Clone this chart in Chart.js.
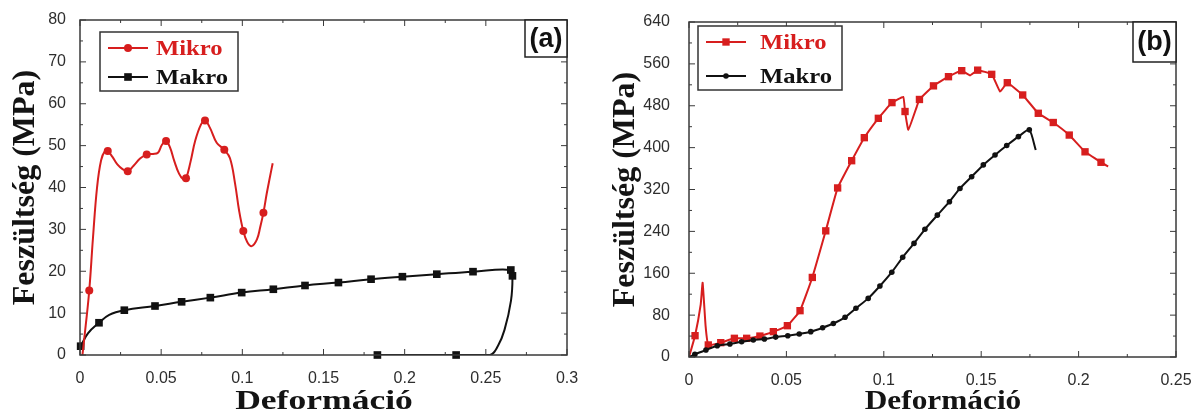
<!DOCTYPE html>
<html>
<head>
<meta charset="utf-8">
<script src="https://cdn.jsdelivr.net/npm/chart.js@4"></script>
<style>
body { margin: 0; background: #fff; }
.wrap { display: flex; width: 1200px; height: 413px; }
.wrap div { width: 600px; height: 413px; }
</style>
</head>
<body>
<div class="wrap">
  <div><canvas id="chartA" width="600" height="413"></canvas></div>
  <div><canvas id="chartB" width="600" height="413"></canvas></div>
</div>
<script>
// ---- (a) ----
var aMikroX = [0.0015, 0.0035, 0.0057, 0.008, 0.0105, 0.013, 0.0155, 0.0171, 0.020, 0.023, 0.0262, 0.0294, 0.033, 0.037, 0.0411, 0.045, 0.048, 0.0505, 0.053, 0.0555, 0.058, 0.061, 0.0635, 0.0653, 0.068, 0.071, 0.0745, 0.077, 0.080, 0.0842, 0.0889, 0.0924, 0.0955, 0.098, 0.1006, 0.103, 0.1058, 0.109, 0.111, 0.113, 0.115, 0.117, 0.1187];
var aMikroY = [0, 7, 15.4, 28, 40, 46.5, 48.8, 48.7, 47.3, 45.5, 44.4, 43.9, 45.2, 46.9, 47.9, 48.0, 48.3, 50.2, 51.1, 49.5, 46.4, 43.3, 42.0, 42.2, 46.0, 51.2, 55.0, 56.0, 54.3, 50.7, 49.0, 47.0, 41.0, 34.5, 29.6, 27.0, 26.0, 27.6, 30.5, 34.0, 38.5, 42.5, 45.8];
var aMikroMarkX = [0.0057, 0.0171, 0.0294, 0.0411, 0.053, 0.0653, 0.077, 0.0889, 0.1006, 0.113];
var aMikroMarkY = [15.4, 48.7, 43.9, 47.9, 51.1, 42.2, 56.0, 49.0, 29.6, 34.0];

var aMakroX = [0.0004, 0.005, 0.0117, 0.018, 0.0273, 0.0462, 0.0626, 0.0803, 0.0996, 0.1191, 0.1386, 0.1592, 0.1793, 0.1986, 0.2198, 0.2421, 0.2654, 0.2664, 0.2655, 0.2615, 0.2575, 0.2526, 0.2317, 0.1832];
var aMakroY = [2.1, 5.2, 7.7, 9.6, 10.7, 11.7, 12.7, 13.7, 14.9, 15.7, 16.6, 17.3, 18.1, 18.7, 19.3, 19.9, 20.3, 18.9, 13.0, 6.0, 2.2, 0, 0, 0];
var aMakroMarkX = [0.0004, 0.0117, 0.0273, 0.0462, 0.0626, 0.0803, 0.0996, 0.1191, 0.1386, 0.1592, 0.1793, 0.1986, 0.2198, 0.2421, 0.2654, 0.2664, 0.2317, 0.1832];
var aMakroMarkY = [2.1, 7.7, 10.7, 11.7, 12.7, 13.7, 14.9, 15.7, 16.6, 17.3, 18.1, 18.7, 19.3, 19.9, 20.3, 18.9, 0, 0];

// ---- (b) ----
var bMikroX = [0, 0.0031, 0.006, 0.007, 0.0085, 0.0099, 0.0163, 0.0233, 0.0296, 0.0364, 0.0433, 0.0505, 0.057, 0.0633, 0.0702, 0.0763, 0.0835, 0.09, 0.0972, 0.1042, 0.11, 0.1109, 0.1126, 0.1169, 0.1183, 0.1255, 0.1332, 0.14, 0.1443, 0.1482, 0.1554, 0.1597, 0.1634, 0.1713, 0.1793, 0.187, 0.1952, 0.2033, 0.2115, 0.2152];
var bMikroY = [0, 40.7, 100, 142, 60, 23, 27.4, 35.7, 35.7, 40, 48.4, 59.8, 88.5, 152, 241, 323, 375, 419, 456, 486, 497, 469, 434, 478, 492, 518, 535.5, 547, 538, 548, 540, 507, 524, 500.6, 465.6, 448, 424, 392, 372, 364];
var bMikroMarkX = [0.0031, 0.0099, 0.0163, 0.0233, 0.0296, 0.0364, 0.0433, 0.0505, 0.057, 0.0633, 0.0702, 0.0763, 0.0835, 0.09, 0.0972, 0.1042, 0.1109, 0.1183, 0.1255, 0.1332, 0.14, 0.1482, 0.1554, 0.1634, 0.1713, 0.1793, 0.187, 0.1952, 0.2033, 0.2115];
var bMikroMarkY = [40.7, 23, 27.4, 35.7, 35.7, 40, 48.4, 59.8, 88.5, 152, 241, 323, 375, 419, 456, 486, 469, 492, 518, 535.5, 547, 548, 540, 524, 500.6, 465.6, 448, 424, 392, 372];

var bMakroX = [0, 0.003, 0.0087, 0.0145, 0.021, 0.027, 0.033, 0.0387, 0.0445, 0.0507, 0.0566, 0.0625, 0.0686, 0.0741, 0.0801, 0.0857, 0.092, 0.098, 0.1041, 0.1097, 0.1155, 0.1211, 0.1275, 0.1337, 0.1391, 0.1451, 0.1511, 0.1571, 0.1631, 0.1691, 0.1747, 0.178];
var bMakroY = [0, 5, 13.4, 21.6, 24.8, 29, 32.5, 34.4, 38, 40.7, 44, 48.4, 56, 64, 75.8, 93, 112, 135.6, 162, 190.5, 217, 244, 271, 296.7, 322, 344.5, 367, 386, 404, 421, 434, 395.5];
var bMakroMarkX = bMakroX.slice(1, -1);
var bMakroMarkY = bMakroY.slice(1, -1);

var seriesNames = ["Mikro", "Makro"];
var yTitle = "Feszültség (MPa)";
var xTitle = "Deformáció";

var RED = "#d71e1e";
var BLACK = "#111111";

function pts(xs, ys) {
    return xs.map(function(x, i) { return { x: x, y: ys[i] }; });
}

function stretchText(ctx, text, x, y, sx, align) {
    ctx.save();
    ctx.translate(x, y);
    ctx.scale(sx, 1);
    ctx.textAlign = align;
    ctx.fillText(text, 0, 0);
    ctx.restore();
}

function drawMarker(ctx, shape, x, y, r, color) {
    ctx.fillStyle = color;
    ctx.beginPath();
    if (shape === "rect") {
        var s = r * Math.SQRT1_2;
        ctx.rect(x - s, y - s, 2 * s, 2 * s);
    } else {
        ctx.arc(x, y, r, 0, Math.PI * 2);
    }
    ctx.fill();
}

// box, inner ticks, titles, legend and panel label
var framePlugin = {
    id: "frame",
    afterDraw: function(chart, args, o) {
        var ctx = chart.ctx, a = chart.chartArea;
        var xs = chart.scales.x, ys = chart.scales.y;
        ctx.save();
        ctx.strokeStyle = "#3a3a3a";
        ctx.lineWidth = 1.5;
        ctx.strokeRect(a.left, a.top, a.right - a.left, a.bottom - a.top);

        ctx.lineWidth = 1;
        ctx.beginPath();
        var n = Math.round((xs.max - xs.min) / o.xMinor);
        for (var i = 0; i <= n; i++) {
            var px = xs.getPixelForValue(xs.min + i * o.xMinor);
            var len = i % 2 === 0 ? 6 : 3;
            ctx.moveTo(px, a.bottom); ctx.lineTo(px, a.bottom - len);
            ctx.moveTo(px, a.top); ctx.lineTo(px, a.top + len);
        }
        n = Math.round((ys.max - ys.min) / o.yMinor);
        for (i = 0; i <= n; i++) {
            var py = ys.getPixelForValue(ys.min + i * o.yMinor);
            len = i % 2 === 0 ? 6 : 3;
            ctx.moveTo(a.left, py); ctx.lineTo(a.left + len, py);
            ctx.moveTo(a.right, py); ctx.lineTo(a.right - len, py);
        }
        ctx.stroke();

        // axis titles
        ctx.fillStyle = "#141414";
        ctx.textBaseline = "alphabetic";
        ctx.font = "bold " + o.xTitleSize + "px 'Liberation Serif', serif";
        stretchText(ctx, xTitle, o.xTitleX, 409, o.xTitleStretch, "center");
        ctx.save();
        ctx.translate(o.yTitleX, (a.top + a.bottom) / 2);
        ctx.rotate(-Math.PI / 2);
        ctx.font = "bold 32px 'Liberation Serif', serif";
        ctx.textAlign = "center";
        ctx.textBaseline = "middle";
        ctx.fillText(yTitle, 0, 0);
        ctx.restore();

        // legend
        var L = o.legend;
        ctx.fillStyle = "#fff";
        ctx.fillRect(L.x, L.y, L.w, L.h);
        ctx.strokeStyle = "#333";
        ctx.lineWidth = 1.5;
        ctx.strokeRect(L.x, L.y, L.w, L.h);
        L.rows.forEach(function(row, k) {
            var cy = L.y + L.rowY[k];
            ctx.strokeStyle = row.color;
            ctx.lineWidth = 2;
            ctx.beginPath();
            ctx.moveTo(L.x + 8, cy); ctx.lineTo(L.x + 48, cy);
            ctx.stroke();
            drawMarker(ctx, row.shape, L.x + 28, cy, row.r, row.color);
            ctx.fillStyle = row.color;
            ctx.font = "bold 22px 'Liberation Serif', serif";
            ctx.textBaseline = "middle";
            stretchText(ctx, seriesNames[k], L.x + L.textX, cy + 1, 1.12, "left");
        });

        // panel label
        var P = o.panel;
        ctx.fillStyle = "#fff";
        ctx.fillRect(P.x, a.top, a.right - P.x, P.h);
        ctx.strokeStyle = "#222";
        ctx.lineWidth = 1.5;
        ctx.strokeRect(P.x, a.top, a.right - P.x, P.h);
        ctx.fillStyle = "#111";
        ctx.font = "bold 27px 'Liberation Sans', Arial, sans-serif";
        ctx.textAlign = "center";
        ctx.textBaseline = "middle";
        ctx.fillText(P.text, (P.x + a.right) / 2, a.top + P.h / 2 + 1);
        ctx.restore();
    }
};

function tickFmt(v) { return String(parseFloat(v.toFixed(3))); }

function makeChart(id, cfg) {
    var ctx = document.getElementById(id).getContext("2d");
    return new Chart(ctx, {
        type: "line",
        data: { datasets: cfg.datasets },
        plugins: [framePlugin],
        options: {
            responsive: false,
            animation: false,
            layout: { padding: cfg.padding },
            plugins: {
                legend: { display: false },
                tooltip: { enabled: false },
                frame: cfg.frame
            },
            scales: {
                x: {
                    type: "linear", min: 0, max: cfg.xMax,
                    grid: { display: false },
                    border: { display: false },
                    afterFit: function(s) { s.height = cfg.xAxisH; },
                    ticks: {
                        stepSize: cfg.xStep, autoSkip: false, maxRotation: 0, padding: 6,
                        color: "#2e2e2e", font: { family: "'Liberation Sans', Arial, sans-serif", size: 16 },
                        callback: tickFmt
                    }
                },
                y: {
                    min: 0, max: cfg.yMax,
                    grid: { display: false },
                    border: { display: false },
                    afterFit: function(s) { s.width = cfg.yAxisW; },
                    ticks: {
                        stepSize: cfg.yStep, padding: cfg.yPad,
                        color: "#2e2e2e", font: { family: "'Liberation Sans', Arial, sans-serif", size: 16 },
                        callback: tickFmt
                    }
                }
            }
        }
    });
}

function curve(xs, ys, color, tension) {
    return { data: pts(xs, ys), borderColor: color, borderWidth: 2, pointRadius: 0, tension: tension, fill: false };
}
function marks(xs, ys, color, shape, r) {
    return { data: pts(xs, ys), showLine: false, pointStyle: shape, pointRadius: r, pointBackgroundColor: color, pointBorderColor: color, pointBorderWidth: 0, clip: false };
}

makeChart("chartA", {
    datasets: [
        marks(aMikroMarkX, aMikroMarkY, RED, "circle", 4),
        curve(aMikroX, aMikroY, RED, 0.4),
        marks(aMakroMarkX, aMakroMarkY, BLACK, "rect", 5.4),
        curve(aMakroX, aMakroY, BLACK, 0.4)
    ],
    padding: { left: 0, top: 20, right: 33, bottom: 0 },
    xAxisH: 58, yAxisW: 80, yPad: 6,
    xMax: 0.3, xStep: 0.05, yMax: 80, yStep: 10,
    frame: {
        xMinor: 0.025, yMinor: 5,
        xTitleX: 324, xTitleSize: 28, xTitleStretch: 1.27, yTitleX: 26,
        legend: { x: 100, y: 32, w: 138, h: 59, rowY: [16, 45], textX: 56,
            rows: [{ color: RED, shape: "circle", r: 4 }, { color: BLACK, shape: "rect", r: 5.4 }] },
        panel: { x: 525, h: 37, text: "(a)" }
    }
});

makeChart("chartB", {
    datasets: [
        marks(bMakroMarkX, bMakroMarkY, BLACK, "circle", 2.8),
        curve(bMakroX, bMakroY, BLACK, 0.2),
        marks(bMikroMarkX, bMikroMarkY, RED, "rect", 5.2),
        curve(bMikroX, bMikroY, RED, 0.1)
    ],
    padding: { left: 0, top: 22, right: 24, bottom: 0 },
    xAxisH: 56, yAxisW: 89, yPad: 11,
    xMax: 0.25, xStep: 0.05, yMax: 640, yStep: 80,
    frame: {
        xMinor: 0.025, yMinor: 40,
        xTitleX: 343, xTitleSize: 27, xTitleStretch: 1.16, yTitleX: 26,
        legend: { x: 98, y: 26, w: 144, h: 64, rowY: [16, 50], textX: 62,
            rows: [{ color: RED, shape: "rect", r: 5.2 }, { color: BLACK, shape: "circle", r: 2.8 }] },
        panel: { x: 533, h: 40, text: "(b)" }
    }
});
</script>
</body>
</html>
